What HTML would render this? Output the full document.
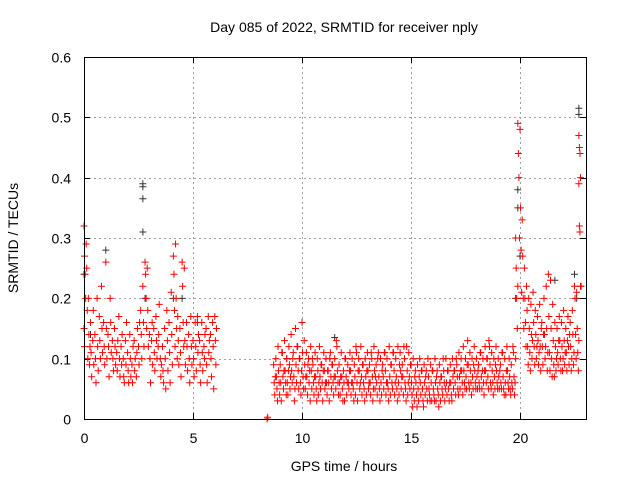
<!DOCTYPE html>
<html><head><meta charset="utf-8"><style>
body{margin:0;background:#fff;}
svg{display:block;font-family:"Liberation Sans",sans-serif;}
</style></head><body>
<svg id="chart" width="640" height="480">
<text x="344" y="32" font-size="14" text-anchor="middle">Day 085 of 2022, SRMTID for receiver nply</text>
<text transform="translate(18,238) rotate(-90)" font-size="14" text-anchor="middle">SRMTID / TECUs</text>
<text x="344" y="471" font-size="14" text-anchor="middle">GPS time / hours</text>
<g id="grid"></g>
<g id="ticks"></g>
<g id="dark" stroke="#333" stroke-width="1"></g>
<g id="red" stroke="#ff0000" stroke-width="1"></g>
<rect x="84.5" y="57.5" width="502" height="362" fill="none" stroke="#000"/>
</svg>
<script>
const xTicks=[0,5,10,15,20];
const yTicks=[0,0.1,0.2,0.3,0.4,0.5,0.6];
const yTickLabels=["0","0.1","0.2","0.3","0.4","0.5","0.6"];
const morningHours=[0,0.1,0.2,0.3,0.4,0.5,0.6,0.7,0.8,0.9,1.0,1.1,1.2,1.3,1.4,1.5,1.6,1.7,1.8,1.9,2.0,2.1,2.2,2.3,2.4,2.5,2.6,2.7,2.8,2.9,3.0,3.1,3.2,3.3,3.4,3.5,3.6,3.7,3.8,3.9,4.0,4.1,4.2,4.3,4.4,4.5,4.6,4.7,4.8,4.9,5.0,5.1,5.2,5.3,5.4,5.5,5.6,5.7,5.8,5.9,6.0,8.4];
const morningValues=[[0.32,0.27,0.24,0.2,0.15,0.12],[0.29,0.25,0.18,0.1],[0.2,0.14,0.09,0.12],[0.16,0.11,0.07],[0.13,0.18,0.09],[0.14,0.1,0.06],[0.2,0.12,0.08],[0.17,0.13,0.1],[0.22,0.15,0.11],[0.16,0.12,0.09],[0.26,0.15,0.1],[0.14,0.12,0.07],[0.2,0.16,0.11],[0.13,0.1,0.08],[0.15,0.12,0.09],[0.11,0.08,0.13],[0.17,0.1,0.07],[0.12,0.09,0.14],[0.1,0.07,0.06],[0.13,0.09,0.16],[0.11,0.08,0.06],[0.14,0.1,0.07],[0.09,0.06,0.12],[0.13,0.08,0.1],[0.07,0.11,0.15],[0.12,0.09,0.16],[0.18,0.14,0.1],[0.22,0.16,0.12],[0.26,0.24,0.2,0.15],[0.25,0.18,0.12],[0.14,0.1,0.06],[0.13,0.16,0.09],[0.15,0.11,0.08],[0.17,0.13,0.1],[0.12,0.14,0.19],[0.1,0.07,0.09],[0.12,0.08,0.06],[0.15,0.1,0.05],[0.18,0.13,0.08],[0.16,0.11,0.06],[0.21,0.14,0.09],[0.27,0.24,0.18,0.12],[0.29,0.2,0.15,0.1],[0.17,0.13,0.09],[0.15,0.11,0.07],[0.26,0.22,0.16,0.12],[0.25,0.13,0.09],[0.16,0.12,0.08],[0.14,0.1,0.06],[0.17,0.12,0.09],[0.13,0.1,0.07],[0.16,0.12,0.08],[0.17,0.11,0.14],[0.13,0.09,0.06],[0.16,0.11,0.08],[0.12,0.1,0.14],[0.15,0.09,0.06],[0.17,0.11,0.13],[0.14,0.1,0.07],[0.16,0.12,0.05],[0.17,0.13,0.09,0.15],[0.0,0.003]];
const dayHours=[8.7,8.8,8.9,9.0,9.1,9.2,9.3,9.4,9.5,9.6,9.7,9.8,9.9,10.0,10.1,10.2,10.3,10.4,10.5,10.6,10.7,10.8,10.9,11.0,11.1,11.2,11.3,11.4,11.5,11.6,11.7,11.8,11.9,12.0,12.1,12.2,12.3,12.4,12.5,12.6,12.7,12.8,12.9,13.0,13.1,13.2,13.3,13.4,13.5,13.6,13.7,13.8,13.9,14.0,14.1,14.2,14.3,14.4,14.5,14.6,14.7,14.8,14.9,15.0,15.1,15.2,15.3,15.4,15.5,15.6,15.7,15.8,15.9,16.0,16.1,16.2,16.3,16.4,16.5,16.6,16.7,16.8,16.9,17.0,17.1,17.2,17.3,17.4,17.5,17.6,17.7,17.8,17.9,18.0,18.1,18.2,18.3,18.4,18.5,18.6,18.7,18.8,18.9,19.0,19.1,19.2,19.3,19.4,19.5,19.6,19.7];
const dayValues=[[0.09,0.06,0.04,0.07],[0.1,0.07,0.05,0.03],[0.12,0.08,0.06,0.04],[0.09,0.06,0.03,0.11],[0.11,0.07,0.05,0.08],[0.13,0.08,0.06,0.04],[0.1,0.06,0.04,0.08],[0.12,0.09,0.05,0.07],[0.14,0.08,0.06,0.1],[0.11,0.07,0.03,0.05],[0.15,0.09,0.06,0.12],[0.12,0.08,0.05,0.1],[0.1,0.06,0.04,0.08],[0.16,0.11,0.07,0.05],[0.13,0.09,0.05,0.07],[0.11,0.07,0.04,0.09],[0.1,0.06,0.08,0.03],[0.12,0.08,0.05,0.1],[0.09,0.06,0.04,0.07],[0.11,0.07,0.05,0.03],[0.1,0.08,0.04,0.06],[0.12,0.07,0.05,0.09],[0.09,0.06,0.03,0.08],[0.11,0.08,0.05,0.06],[0.1,0.06,0.04,0.08],[0.08,0.06,0.03,0.1],[0.11,0.07,0.05,0.09],[0.09,0.06,0.04,0.07],[0.1,0.07,0.05,0.13],[0.12,0.08,0.06,0.04],[0.09,0.06,0.04,0.07],[0.11,0.07,0.05,0.03],[0.08,0.06,0.03,0.1],[0.1,0.07,0.04,0.06],[0.09,0.06,0.05,0.08],[0.11,0.08,0.04,0.06],[0.1,0.06,0.05,0.03],[0.09,0.07,0.04,0.12],[0.11,0.06,0.03,0.08],[0.1,0.08,0.05,0.06],[0.12,0.07,0.04,0.09],[0.09,0.06,0.05,0.03],[0.1,0.07,0.04,0.08],[0.11,0.08,0.05,0.06],[0.09,0.06,0.04,0.11],[0.1,0.07,0.03,0.05],[0.12,0.08,0.05,0.07],[0.09,0.06,0.04,0.1],[0.11,0.07,0.05,0.03],[0.1,0.06,0.04,0.08],[0.09,0.07,0.05,0.11],[0.11,0.08,0.04,0.06],[0.1,0.06,0.05,0.03],[0.12,0.07,0.04,0.09],[0.09,0.06,0.05,0.11],[0.11,0.08,0.04,0.06],[0.1,0.07,0.05,0.03],[0.12,0.06,0.04,0.09],[0.11,0.08,0.05,0.07],[0.09,0.07,0.04,0.12],[0.1,0.06,0.05,0.03],[0.12,0.08,0.04,0.06],[0.11,0.07,0.05,0.09],[0.09,0.06,0.04,0.02],[0.1,0.05,0.03,0.07],[0.08,0.06,0.04,0.02],[0.09,0.05,0.03,0.07],[0.1,0.06,0.04,0.08],[0.08,0.05,0.03,0.02],[0.09,0.06,0.04,0.07],[0.08,0.05,0.03,0.1],[0.07,0.05,0.04,0.03],[0.09,0.06,0.03,0.08],[0.08,0.05,0.04,0.03],[0.1,0.06,0.03,0.07],[0.08,0.05,0.04,0.02],[0.09,0.06,0.03,0.07],[0.07,0.05,0.04,0.1],[0.08,0.06,0.03,0.05],[0.1,0.06,0.04,0.08],[0.08,0.05,0.03,0.06],[0.09,0.06,0.04,0.03],[0.1,0.07,0.05,0.08],[0.08,0.06,0.04,0.1],[0.09,0.07,0.05,0.04],[0.11,0.07,0.05,0.08],[0.1,0.08,0.06,0.04],[0.12,0.08,0.06,0.05],[0.1,0.07,0.05,0.09],[0.13,0.09,0.06,0.05],[0.11,0.08,0.06,0.04],[0.1,0.07,0.05,0.09],[0.12,0.08,0.06,0.05],[0.1,0.07,0.05,0.08],[0.09,0.06,0.05,0.11],[0.11,0.07,0.05,0.08],[0.1,0.06,0.04,0.08],[0.12,0.08,0.06,0.1],[0.1,0.07,0.05,0.13],[0.12,0.09,0.06,0.05],[0.11,0.08,0.06,0.04],[0.1,0.07,0.05,0.09],[0.12,0.08,0.06,0.05],[0.1,0.07,0.05,0.08],[0.09,0.06,0.05,0.11],[0.11,0.07,0.05,0.04],[0.1,0.06,0.04,0.08],[0.12,0.08,0.06,0.05],[0.1,0.07,0.05,0.04],[0.09,0.06,0.05,0.12],[0.11,0.07,0.04,0.06]];
const eveningHours=[19.8,19.9,20.0,20.1,20.2,20.3,20.4,20.5,20.6,20.7,20.8,20.9,21.0,21.1,21.2,21.3,21.4,21.5,21.6,21.7,21.8,21.9,22.0,22.1,22.2,22.3,22.4,22.5,22.6,22.7];
const eveningValues=[[0.3,0.25,0.2,0.15,0.1],[0.49,0.44,0.4,0.3,0.22],[0.48,0.35,0.28,0.21],[0.33,0.27,0.2,0.15],[0.25,0.2,0.16,0.12],[0.22,0.18,0.12,0.09],[0.2,0.15,0.11,0.08],[0.19,0.14,0.1,0.13],[0.21,0.16,0.12,0.09],[0.18,0.14,0.1,0.12],[0.17,0.13,0.09,0.11],[0.19,0.12,0.08,0.15],[0.16,0.12,0.09,0.14],[0.2,0.14,0.1,0.12],[0.22,0.15,0.08,0.11],[0.24,0.17,0.11,0.08],[0.23,0.15,0.1,0.07],[0.19,0.13,0.09,0.07],[0.16,0.12,0.08,0.1],[0.15,0.11,0.09,0.13],[0.17,0.13,0.1,0.08],[0.16,0.12,0.08,0.1],[0.18,0.13,0.09,0.11],[0.15,0.11,0.08,0.13],[0.17,0.12,0.09,0.14],[0.16,0.12,0.08,0.1],[0.18,0.14,0.09,0.11],[0.22,0.2,0.14,0.1],[0.21,0.15,0.11,0.08],[0.47,0.45,0.44,0.4,0.39,0.32,0.31,0.22,0.13]];
const darkHours=[0,0.3,1.0,2.7,2.7,2.7,2.7,2.8,4.1,4.5,5.2,9.3,11.5,19.9,19.9,19.8,20.0,21.6,22.5,22.7,22.7,22.6,22.8];
const darkValues=[0.24,0.14,0.28,0.39,0.385,0.365,0.31,0.2,0.2,0.2,0.16,0.1,0.135,0.38,0.35,0.2,0.27,0.23,0.24,0.515,0.505,0.2,0.22];

const X=h=>84+h*21.8, Y=v=>419-v*603.3;
const NS='http://www.w3.org/2000/svg';
function mk(tag,attrs,parent){const e=document.createElementNS(NS,tag);for(const k in attrs)e.setAttribute(k,attrs[k]);parent.appendChild(e);return e;}
const grid=document.getElementById('grid'),ticks=document.getElementById('ticks');
xTicks.forEach(t=>{const x=Math.round(X(t))+0.5;
 if(t>0){const g=mk('line',{x1:x,x2:x,y1:57,y2:419,stroke:'#a0a0a0','stroke-dasharray':'2,3'},grid);
 
 }
 mk('line',{x1:x,x2:x,y1:419,y2:413,stroke:'#000'},ticks);
 mk('line',{x1:x,x2:x,y1:57,y2:63,stroke:'#000'},ticks);
 const l=mk('text',{x:x,y:443,'font-size':14,'text-anchor':'middle'},ticks);l.textContent=t;
 
 });
yTicks.forEach((t,i)=>{const y=Math.round(Y(t))+0.5;
 if(t>0&&t<0.6){const g=mk('line',{x1:84,x2:586,y1:y,y2:y,stroke:'#a0a0a0','stroke-dasharray':'2,3'},grid);
 
 }
 mk('line',{x1:84,x2:90,y1:y,y2:y,stroke:'#000'},ticks);
 mk('line',{x1:580,x2:586,y1:y,y2:y,stroke:'#000'},ticks);
 const l=mk('text',{x:71,y:y+5,'font-size':14,'text-anchor':'end'},ticks);l.textContent=yTickLabels[i];
 
 });
function plus(g,h,v){const x=X(h),y=Y(v);
 const p=mk('path',{d:`M${x-3.5} ${y}h7M${x} ${y-3.5}v7`},g);
 
 }
const dark=document.getElementById('dark'),red=document.getElementById('red');
darkHours.forEach((h,i)=>plus(dark,h,darkValues[i]));
function drawGroups(hours,values){hours.forEach((h,i)=>{const vs=values[i]||[];const n=vs.length;
 vs.forEach((v,j)=>plus(red,h+(n>1?(j%4)*0.025:0),v));});}
drawGroups(morningHours,morningValues);
drawGroups(dayHours,dayValues);
drawGroups(eveningHours,eveningValues);
</script>
</body></html>
